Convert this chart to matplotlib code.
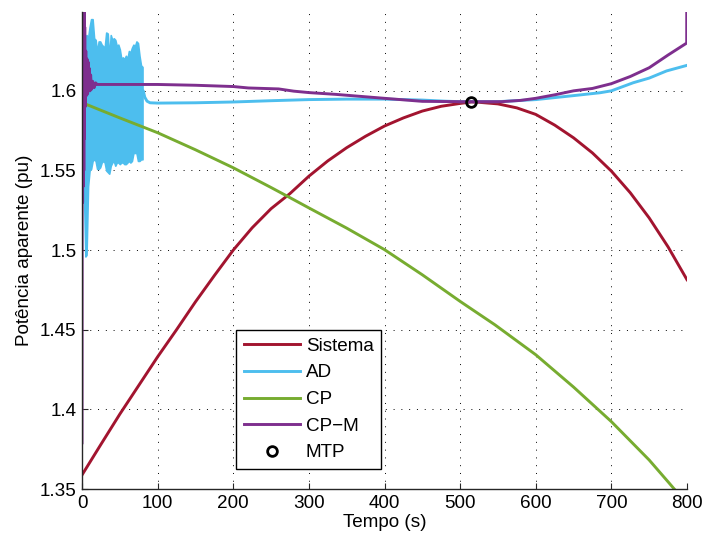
import matplotlib
matplotlib.use("Agg")
import matplotlib.pyplot as plt

plt.rcParams['font.family'] = ['Liberation Sans', 'DejaVu Sans']

# ---- data ----
sis_t = [0, 25, 50, 75, 100, 125, 150, 175, 200, 225, 250, 275, 300, 325, 350, 375,
         400, 425, 450, 475, 500, 515, 525, 550, 575, 600, 625, 650, 675, 700, 725,
         750, 775, 800]
sis_v = [1.3588, 1.378, 1.397, 1.415, 1.433, 1.450, 1.4675, 1.484, 1.500, 1.514,
         1.526, 1.5355, 1.5464, 1.556, 1.5643, 1.5715, 1.5779, 1.583, 1.5873, 1.5903,
         1.5921, 1.593, 1.5928, 1.5918, 1.5893, 1.5852, 1.5785, 1.5705, 1.561, 1.5496,
         1.536, 1.5202, 1.502, 1.4814]

ad_band_t = [3, 4.5, 6, 8, 10, 12, 14, 16, 18, 20, 22, 24, 26, 28, 30, 32, 34, 36, 38,
             40, 42, 44, 46, 48, 50, 52, 54, 56, 58, 60, 62, 64, 66, 68, 70, 72, 74,
             76, 78, 80]
ad_band_hi = [1.634, 1.634, 1.635, 1.633, 1.640, 1.645, 1.645, 1.633, 1.632, 1.624,
              1.631, 1.631, 1.629, 1.628, 1.627, 1.6366, 1.636, 1.620, 1.635, 1.632,
              1.633, 1.632, 1.628, 1.629, 1.626, 1.620, 1.621, 1.6198, 1.622, 1.620,
              1.625, 1.624, 1.627, 1.629, 1.628, 1.631, 1.630, 1.622, 1.616, 1.615]
ad_band_lo = [1.528, 1.496, 1.497, 1.540, 1.550, 1.551, 1.556, 1.557, 1.556, 1.551,
              1.551, 1.552, 1.555, 1.556, 1.555, 1.550, 1.549, 1.548, 1.553, 1.555,
              1.556, 1.553, 1.555, 1.555, 1.554, 1.555, 1.555, 1.554, 1.554, 1.555,
              1.556, 1.555, 1.556, 1.561, 1.561, 1.561, 1.556, 1.556, 1.557, 1.557]

ad_t = [79, 81, 83, 86, 90, 100, 150, 200, 250, 300, 350, 400, 450, 480, 500, 550,
        600, 650, 685, 700, 729, 750, 773, 800]
ad_v = [1.600, 1.600, 1.596, 1.5935, 1.5925, 1.5923, 1.5925, 1.593, 1.5938, 1.5945,
        1.5948, 1.5948, 1.5942, 1.5935, 1.5932, 1.5932, 1.5945, 1.597, 1.5988, 1.600,
        1.6051, 1.608, 1.6125, 1.616]

cp_t = [3, 50, 100, 150, 200, 250, 272, 300, 350, 400, 450, 500, 546, 600, 650, 700,
        750, 775, 790]
cp_v = [1.592, 1.583, 1.5737, 1.563, 1.5517, 1.5393, 1.5337, 1.5265, 1.5138, 1.5003,
        1.4845, 1.4678, 1.4531, 1.4343, 1.414, 1.3923, 1.3682, 1.3545, 1.3462]

cpm_t = [0, 0.4, 0.8, 1.2, 1.6, 2.0, 2.4, 2.8, 3.2, 3.6, 4.2, 5.0, 5.8, 6.6, 7.4, 8.2,
         9.0, 9.8, 10.6, 11.4, 12.5, 14, 16, 18, 20, 50, 100, 150, 200, 220, 260, 280,
         300, 335, 400, 450, 500, 555, 580, 600, 625, 650, 675, 700, 725, 750, 775,
         799.6, 799.7]
cpm_v = [1.379, 1.66, 1.53, 1.66, 1.54, 1.66, 1.55, 1.66, 1.57, 1.64, 1.59, 1.625,
         1.597, 1.62, 1.598, 1.618, 1.600, 1.614, 1.600, 1.610, 1.601, 1.606, 1.602,
         1.605, 1.604, 1.604, 1.604, 1.6035, 1.6027, 1.6018, 1.6012, 1.5998, 1.5989,
         1.5978, 1.5953, 1.5934, 1.5932, 1.5932, 1.594, 1.5953, 1.5975, 1.600, 1.6015,
         1.6045, 1.609, 1.6145, 1.6225, 1.630, 1.66]

mtp_t = [514]
mtp_v = [1.593]

x_ticks = [0, 100, 200, 300, 400, 500, 600, 700, 800]
y_ticks = [1.35, 1.4, 1.45, 1.5, 1.55, 1.6]
y_tick_labels = ['1.35', '1.4', '1.45', '1.5', '1.55', '1.6']

c_sis = '#A2142F'
c_ad = '#4DBEEE'
c_cp = '#77AC30'
c_cpm = '#7E2F8E'
axc = '#262626'

fs = 13.6

fig = plt.figure(figsize=(7.03, 5.39), dpi=100)
ax = fig.add_axes([82/703, 50/539, 605/703, 477/539])

lw = 2.1
ax.plot(sis_t, sis_v, color=c_sis, lw=lw, label='Sistema')
ax.fill_between(ad_band_t, ad_band_lo, ad_band_hi, facecolor=c_ad,
                edgecolor=c_ad, lw=1.2)
ax.plot(ad_t, ad_v, color=c_ad, lw=lw, label='AD')
ax.plot(cp_t, cp_v, color=c_cp, lw=lw, label='CP')
ax.plot(cpm_t, cpm_v, color=c_cpm, lw=lw, label='CP\u2212M')
ax.plot(mtp_t, mtp_v, linestyle='none', marker='o', ms=7, mew=2,
        mfc='none', mec='black', label='MTP')

ax.set_xlim(0, 800)
ax.set_ylim(1.35, 1.6495)
ax.set_xticks(x_ticks)
ax.set_yticks(y_ticks)
ax.set_yticklabels(y_tick_labels)

for s in ['top', 'right']:
    ax.spines[s].set_visible(False)
for s in ['left', 'bottom']:
    ax.spines[s].set_color(axc)
    ax.spines[s].set_linewidth(1.0)

ax.tick_params(direction='in', length=4, width=0.8, colors=axc, labelsize=fs,
               labelcolor='black', pad=4)
ax.grid(True, color='black', linestyle=(0, (1, 7)), linewidth=0.7)
ax.set_axisbelow(True)

ax.set_xlabel('Tempo (s)', fontsize=fs, labelpad=2)
ax.set_ylabel('Potência aparente (pu)', fontsize=fs, labelpad=5)

leg = ax.legend(loc='lower left', bbox_to_anchor=(0.2545, 0.0419), fontsize=fs,
                frameon=True, fancybox=False, edgecolor='black', framealpha=1,
                handlelength=3.0, handletextpad=0.3, labelspacing=0.5,
                borderpad=0.4, borderaxespad=0)
leg.get_frame().set_linewidth(1.0)

fig.savefig('out.png', dpi=100)
